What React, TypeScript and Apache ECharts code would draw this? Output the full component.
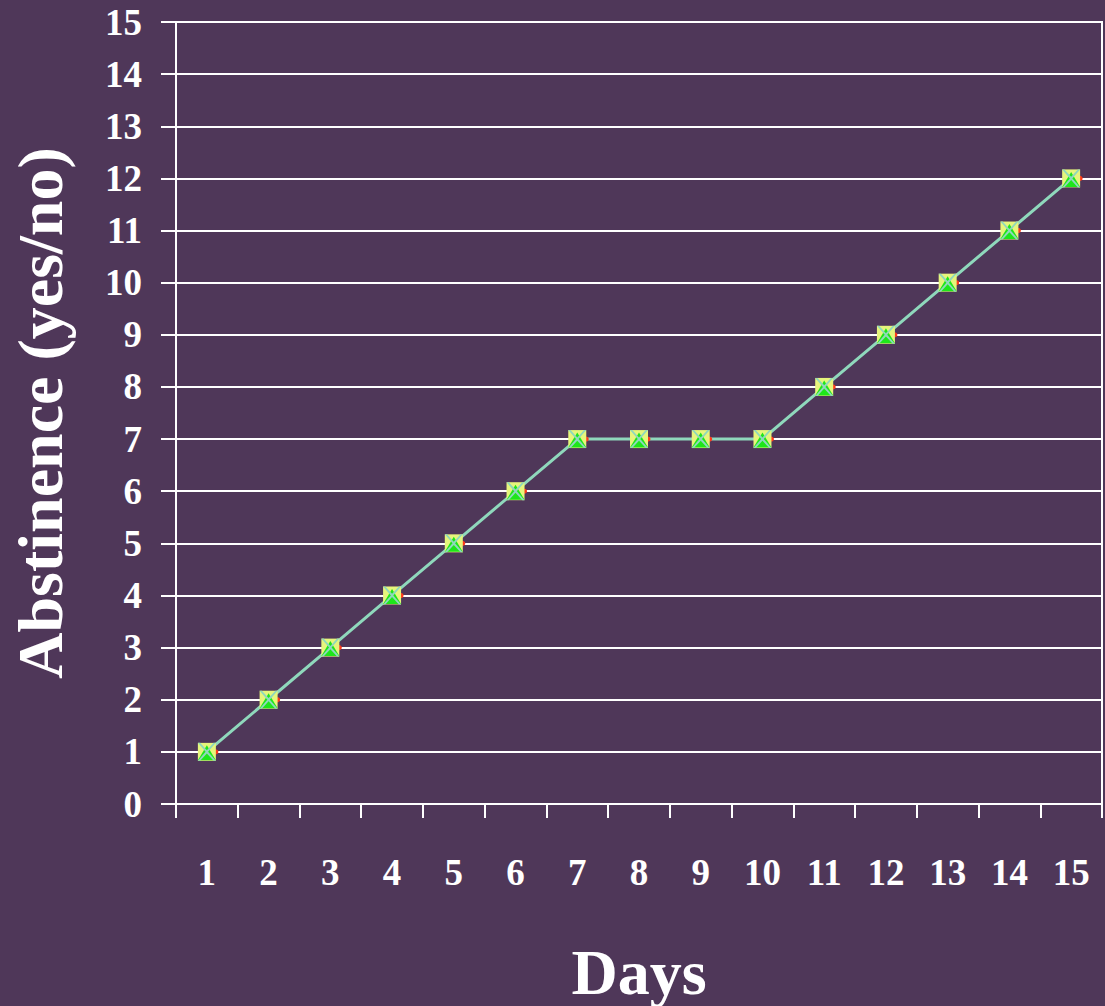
import React, { useEffect, useRef } from "react";
import * as echarts from "echarts";

const days = ["1", "2", "3", "4", "5", "6", "7", "8", "9", "10", "11", "12", "13", "14", "15"];
const abstinence = [1, 2, 3, 4, 5, 6, 7, 7, 7, 7, 8, 9, 10, 11, 12];

const BG = "#4f3759";
const FONT = "'Liberation Serif', 'Times New Roman', serif";
const CROSS = "path://M0,0 L2.5,0 L10,8.2 L17.5,0 L20,0 L11.4,10 L20,20 L17.5,20 L10,11.8 L2.5,20 L0,20 L8.6,10 Z";

export default function App() {
  const ref = useRef<HTMLDivElement>(null);

  useEffect(() => {
    if (!ref.current) return;
    const chart = echarts.init(ref.current, null, { renderer: "svg" });
    const markerSeries = (symbol: string, size: number | number[], color: string, z: number, offset?: number[]) => ({
      type: "line",
      data: abstinence,
      symbol,
      symbolSize: size,
      symbolOffset: offset || [0, 0],
      showSymbol: true,
      lineStyle: { opacity: 0 },
      itemStyle: { color, borderWidth: 0 },
      z,
      silent: true,
    });
    chart.setOption({
      animation: false,
      backgroundColor: BG,
      grid: {
        left: 176,
        right: 3,
        top: 22,
        bottom: 202,
        outerBoundsMode: "none",
        containLabel: false,
        show: true,
        borderColor: "#ffffff",
        borderWidth: 2,
        backgroundColor: "transparent",
      },
      xAxis: {
        type: "category",
        data: days,
        boundaryGap: true,
        name: "Days",
        nameLocation: "middle",
        nameGap: 136,
        nameTextStyle: { color: "#ffffff", fontFamily: FONT, fontWeight: "bold", fontSize: 64 },
        axisLine: { show: true, lineStyle: { color: "#ffffff", width: 2 } },
        axisTick: { show: true, alignWithLabel: false, length: 14, lineStyle: { color: "#ffffff", width: 2 } },
        axisLabel: { color: "#ffffff", fontFamily: FONT, fontWeight: "bold", fontSize: 37, margin: 50 },
        splitLine: { show: false },
      },
      yAxis: {
        type: "value",
        min: 0,
        max: 15,
        interval: 1,
        name: "Abstinence (yes/no)",
        nameLocation: "middle",
        nameGap: 104,
        nameTextStyle: { color: "#ffffff", fontFamily: FONT, fontWeight: "bold", fontSize: 64 },
        axisLine: { show: true, lineStyle: { color: "#ffffff", width: 2 } },
        axisTick: { show: true, length: 15, lineStyle: { color: "#ffffff", width: 2 } },
        axisLabel: { color: "#ffffff", fontFamily: FONT, fontWeight: "bold", fontSize: 37, margin: 34 },
        splitLine: { show: true, lineStyle: { color: "#ffffff", width: 2 } },
      },
      series: [
        {
          type: "line",
          data: abstinence,
          symbol: "none",
          lineStyle: { color: "#8fd8bc", width: 3 },
          z: 2,
          silent: true,
        },
        markerSeries("circle", 5, "#ff3a1a", 3, [9, 0]),
        markerSeries("rect", 18, "#e6f57c", 4),
        markerSeries("triangle", [18, 15], "#1ee61a", 5, [0, 1]),
        markerSeries(CROSS, 18, "#8fd8bc", 6),
      ],
    });
    return () => chart.dispose();
  }, []);

  return <div ref={ref} style={{ position: "fixed", left: 0, top: 0, width: 1105, height: 1006 }} />;
}
